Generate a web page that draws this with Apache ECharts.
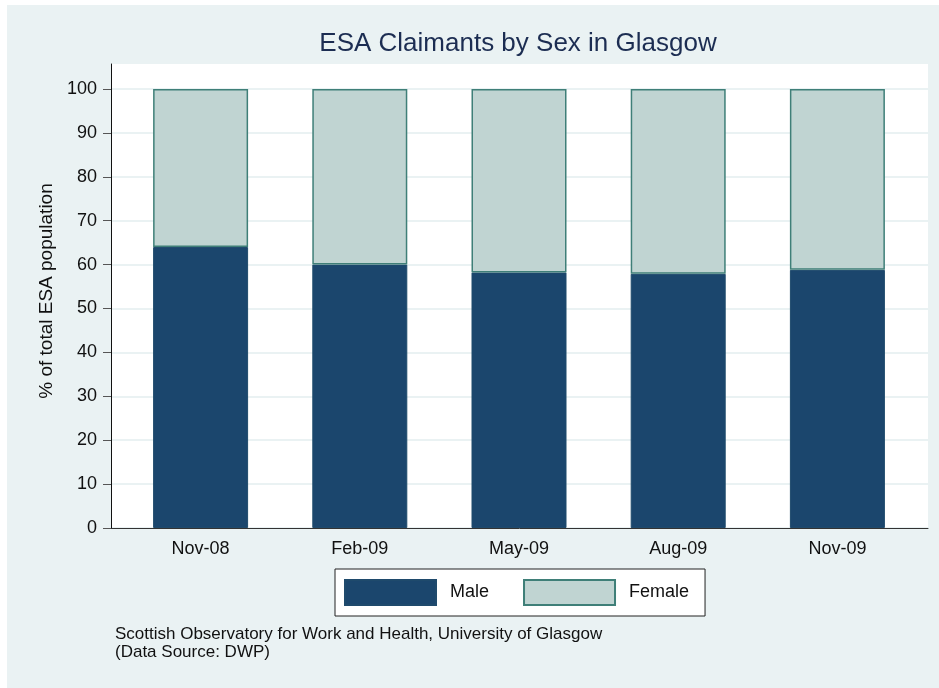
<!DOCTYPE html>
<html>
<head>
<meta charset="utf-8">
<script src="https://cdn.jsdelivr.net/npm/echarts@6/dist/echarts.min.js"></script>
<style>
html,body{margin:0;padding:0;background:#ffffff;}
#chart{width:939px;height:688px;}
</style>
</head>
<body>
<div id="chart"></div>
<script>
const categories = ['Nov-08', 'Feb-09', 'May-09', 'Aug-09', 'Nov-09'];
const maleValues = [64.0, 60.0, 58.2, 57.9, 58.8];
const femaleValues = [36.0, 40.0, 41.8, 42.1, 41.2];
const yTicks = [0, 10, 20, 30, 40, 50, 60, 70, 80, 90, 100];

const FONT = 'Liberation Sans, Arial, sans-serif';
const chart = echarts.init(document.getElementById('chart'), null, {renderer: 'canvas'});

const option = {
  animation: false,
  backgroundColor: '#eaf2f3',
  textStyle: {fontFamily: FONT},
  title: [
    {
      text: 'ESA Claimants by Sex in Glasgow',
      left: 518, top: 31, textAlign: 'center', padding: 0,
      textStyle: {fontFamily: FONT, fontSize: 26, fontWeight: 'normal', color: '#1c2d52'}
    },
    {
      text: 'Scottish Observatory for Work and Health, University of Glasgow\n(Data Source: DWP)',
      left: 115, top: 625, padding: 0,
      textStyle: {fontFamily: FONT, fontSize: 17, fontWeight: 'normal', color: '#111', lineHeight: 18}
    }
  ],
  graphic: [
    {type: 'rect', shape: {x: 0, y: 0, width: 939, height: 5}, style: {fill: '#ffffff'}, silent: true},
    {type: 'rect', shape: {x: 0, y: 0, width: 7, height: 688}, style: {fill: '#ffffff'}, silent: true}
  ],
  legend: {
    data: ['Male', 'Female'],
    left: 335, top: 569,
    padding: [10, 16, 10, 9],
    itemWidth: 91, itemHeight: 25, itemGap: 34,
    backgroundColor: '#ffffff',
    borderColor: '#222', borderWidth: 1,
    borderRadius: 0,
    textStyle: {fontFamily: FONT, fontSize: 18, color: '#111', padding: [0, 0, 0, 9]},
    icon: 'rect'
  },
  grid: [
    {left: 111, right: 11, top: 64, bottom: 160, show: true, backgroundColor: '#ffffff', borderWidth: 0, containLabel: false},
    {left: 111, right: 11, top: 89, bottom: 160, containLabel: false},
    {left: 121, right: 22, top: 89, bottom: 160, containLabel: false}
  ],
  xAxis: [
    {
      gridIndex: 0, type: 'value', min: 0, max: 1,
      axisLine: {show: true, onZero: false, lineStyle: {color: '#333', width: 1}},
      axisTick: {show: false}, axisLabel: {show: false}, splitLine: {show: false}
    },
    {
      gridIndex: 1, type: 'value', min: 0, max: 1, show: false
    },
    {
      gridIndex: 2, type: 'category', data: categories,
      axisLine: {show: false}, axisTick: {show: false},
      axisLabel: {margin: 12, fontFamily: FONT, fontSize: 18, color: '#111'}
    }
  ],
  yAxis: [
    {
      gridIndex: 0, type: 'value', min: 0, max: 1,
      name: '% of total ESA population', nameLocation: 'middle', nameGap: 55,
      nameTextStyle: {fontFamily: FONT, fontSize: 19, color: '#111', padding: [0, 0, 0, 10]},
      axisLine: {show: true, lineStyle: {color: '#111', width: 1}},
      axisTick: {show: false}, axisLabel: {show: false}, splitLine: {show: false}
    },
    {
      gridIndex: 1, type: 'value', min: yTicks[0], max: yTicks[yTicks.length - 1], interval: 10,
      axisLine: {show: true, lineStyle: {color: '#111', width: 1}},
      axisTick: {show: true, length: 8, lineStyle: {color: '#555', width: 1}},
      axisLabel: {margin: 14, fontFamily: FONT, fontSize: 18, color: '#111'},
      splitLine: {show: true, lineStyle: {color: '#eaf2f3', width: 2}}
    },
    {
      gridIndex: 2, type: 'value', min: 0, max: 100, interval: 10, show: false,
      splitLine: {show: false}
    }
  ],
  series: [
    {
      name: 'Male', type: 'bar', stack: 'total', xAxisIndex: 2, yAxisIndex: 2,
      data: maleValues, barWidth: 95,
      itemStyle: {color: '#1b466d', borderColor: '#1f4a6c', borderWidth: 1}
    },
    {
      name: 'Female', type: 'bar', stack: 'total', xAxisIndex: 2, yAxisIndex: 2,
      data: femaleValues, barWidth: 95,
      itemStyle: {color: '#c0d4d2', borderColor: '#3f7f78', borderWidth: 1.5}
    }
  ]
};
chart.setOption(option);
</script>
</body>
</html>
